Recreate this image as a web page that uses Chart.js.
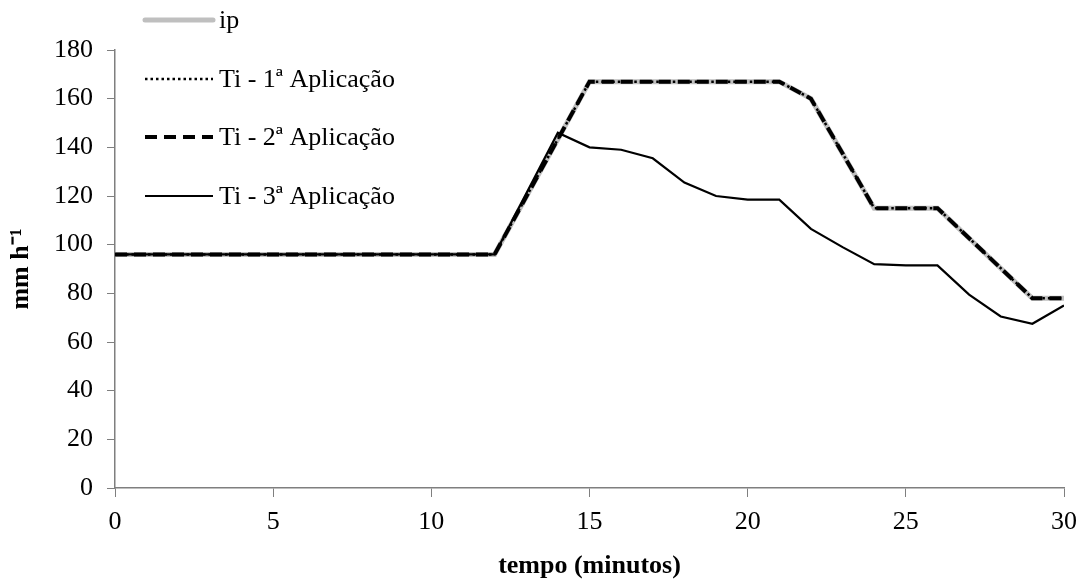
<!DOCTYPE html>
<html>
<head>
<meta charset="utf-8">
<script src="https://cdn.jsdelivr.net/npm/chart.js@4/dist/chart.umd.min.js"></script>
<style>
  body { margin: 0; background: #fff; }
  #wrap { width: 1092px; height: 582px; }
</style>
</head>
<body>
<div id="wrap"><canvas id="infilChart" width="1092" height="582"></canvas></div>
<script>
// Time (minutes) at the corners of each curve
const ipTime = [0, 12, 15, 21, 22, 24, 26, 29, 30];
const ti3Time = [0, 12, 14, 15, 16, 17, 18, 19, 20, 21, 22, 23, 24, 25, 26, 27, 28, 29, 30];

// Series values (mm h-1)
const ipValues  = [96, 96, 167, 167, 160, 115, 115, 78, 78];
const ti1Values = [96, 96, 167, 167, 160, 115, 115, 78, 78];
const ti2Values = [96, 96, 167, 167, 160, 115, 115, 78, 78];
const ti3Values = [96, 96, 146, 140, 139, 135.5, 125.5, 120, 118.5, 118.5, 106.5, 99, 92, 91.5, 91.5, 79.5, 70.5, 67.5, 75];

// Axis ticks
const xTicks = [0, 5, 10, 15, 20, 25, 30];
const yTicks = [0, 20, 40, 60, 80, 100, 120, 140, 160, 180];

const seriesLabels = ['ip', 'Ti - 1ª Aplicação', 'Ti - 2ª Aplicação', 'Ti - 3ª Aplicação'];

const serif = "'Liberation Serif', 'Times New Roman', serif";
const axisGray = '#7f7f7f';

function toPoints(times, values) {
    return times.map((t, i) => ({ x: t, y: values[i] }));
}

// Legend drawn by hand: it sits top-left, partly above the plot
const sideLegend = {
    id: 'sideLegend',
    afterDraw(chart) {
        const ctx = chart.ctx;
        const rows = [20, 79, 137, 196];
        const x0 = 145, x1 = 213;
        ctx.save();
        ctx.font = '26px ' + serif;
        ctx.textBaseline = 'middle';
        ctx.fillStyle = '#000';
        chart.data.datasets.forEach((ds, i) => {
            const y = rows[i];
            ctx.beginPath();
            ctx.lineWidth = ds.borderWidth;
            ctx.strokeStyle = ds.borderColor;
            ctx.lineCap = ds.borderCapStyle || 'butt';
            ctx.setLineDash(ds.borderDash || []);
            ctx.moveTo(x0, y);
            ctx.lineTo(x1, y);
            ctx.stroke();
            ctx.setLineDash([]);
            ctx.fillText(ds.label, 219, y + 1);
        });
        ctx.restore();
    }
};

function initializeChart() {
    const ctx = document.getElementById('infilChart');

    new Chart(ctx, {
        type: 'line',
        data: {
            datasets: [
                {
                    label: seriesLabels[0],
                    data: toPoints(ipTime, ipValues),
                    borderColor: '#bfbfbf',
                    borderWidth: 5,
                    borderCapStyle: 'round',
                    order: 4
                },
                {
                    label: seriesLabels[1],
                    data: toPoints(ipTime, ti1Values),
                    borderColor: '#000',
                    borderWidth: 2.5,
                    borderDash: [2.5, 3],
                    order: 1
                },
                {
                    label: seriesLabels[2],
                    data: toPoints(ipTime, ti2Values),
                    borderColor: '#000',
                    borderWidth: 4,
                    borderDash: [12, 7],
                    order: 2
                },
                {
                    label: seriesLabels[3],
                    data: toPoints(ti3Time, ti3Values),
                    borderColor: '#000',
                    borderWidth: 2.2,
                    order: 3
                }
            ]
        },
        options: {
            responsive: false,
            animation: false,
            layout: { padding: { top: 50, right: 28, bottom: 0, left: 0 } },
            elements: {
                point: { radius: 0 },
                line: { tension: 0, fill: false }
            },
            plugins: {
                legend: { display: false },
                tooltip: { enabled: false }
            },
            scales: {
                x: {
                    type: 'linear',
                    min: 0,
                    max: 30,
                    afterBuildTicks: axis => { axis.ticks = xTicks.map(v => ({ value: v })); },
                    afterFit: axis => { axis.height = 94; },
                    grid: {
                        drawOnChartArea: false,
                        drawTicks: true,
                        tickLength: 9,
                        color: axisGray
                    },
                    border: { display: true, color: axisGray, width: 1.5 },
                    ticks: {
                        color: '#000',
                        padding: 10,
                        maxRotation: 0,
                        font: { family: serif, size: 26 }
                    },
                    title: {
                        display: true,
                        text: 'tempo (minutos)',
                        color: '#000',
                        padding: { top: 0, bottom: 0 },
                        font: { family: serif, size: 26, weight: 'bold' }
                    }
                },
                y: {
                    min: 0,
                    max: 180,
                    afterBuildTicks: axis => { axis.ticks = yTicks.map(v => ({ value: v })); },
                    afterFit: axis => { axis.width = 115; },
                    grid: {
                        drawOnChartArea: false,
                        drawTicks: true,
                        tickLength: 8,
                        color: axisGray
                    },
                    border: { display: true, color: axisGray, width: 1.5 },
                    ticks: {
                        color: '#000',
                        padding: 14,
                        font: { family: serif, size: 26 }
                    },
                    title: {
                        display: true,
                        text: 'mm h⁻¹',
                        color: '#000',
                        padding: { top: 6, bottom: 0 },
                        font: { family: serif, size: 26, weight: 'bold' }
                    }
                }
            }
        },
        plugins: [sideLegend]
    });
}

document.addEventListener('DOMContentLoaded', initializeChart);
</script>
</body>
</html>
